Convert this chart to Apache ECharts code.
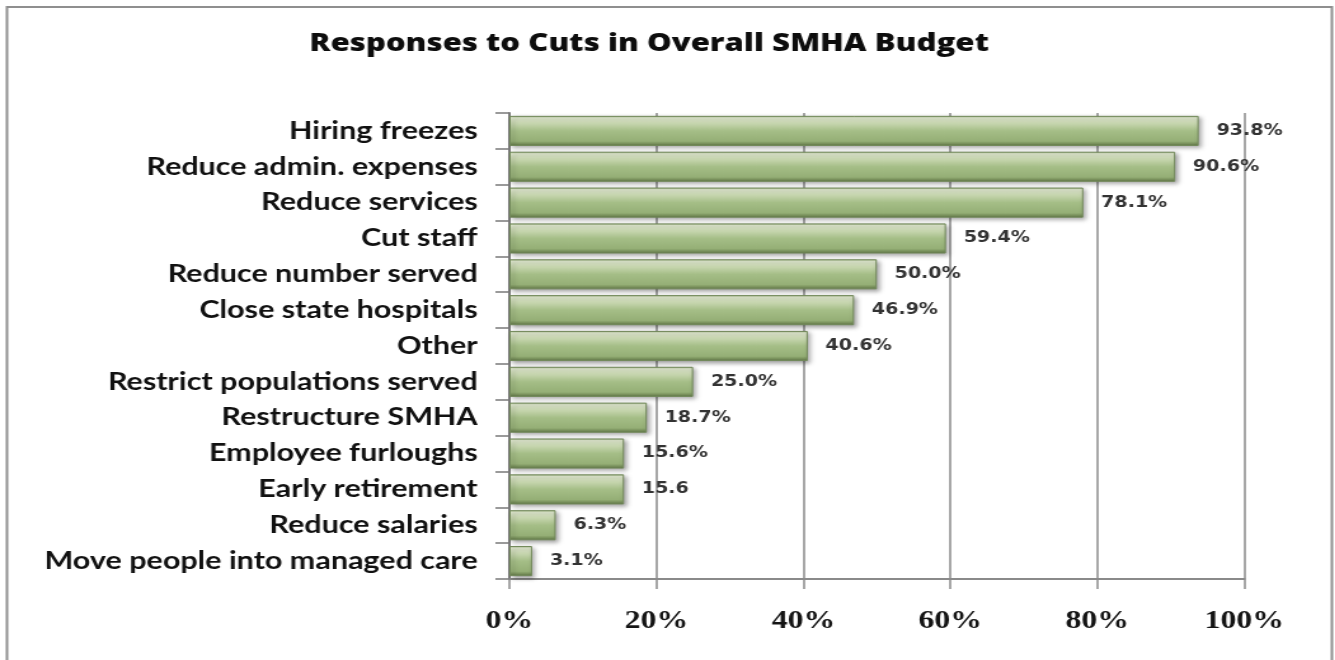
<!DOCTYPE html>
<html>
<head>
<meta charset="utf-8">
<script src="https://cdn.jsdelivr.net/npm/echarts@6/dist/echarts.min.js"></script>
<style>
  html, body { margin: 0; padding: 0; background: #fff; overflow: hidden; }
  /* the chart is laid out narrow and widened horizontally, giving the wide lettering */
  #chart { width: 1051px; height: 660px; transform: scaleX(1.2703); transform-origin: 0 0; }
</style>
</head>
<body>
<div id="chart"></div>
<script>
// Survey responses, listed top to bottom
const categories = [
  'Hiring freezes',
  'Reduce admin. expenses',
  'Reduce services',
  'Cut staff',
  'Reduce number served',
  'Close state hospitals',
  'Other',
  'Restrict populations served',
  'Restructure SMHA',
  'Employee furloughs',
  'Early retirement',
  'Reduce salaries',
  'Move people into managed care'
];
// Share of SMHAs reporting each response (%)
const values = [93.8, 90.6, 78.1, 59.4, 50.0, 46.9, 40.6, 25.0, 18.7, 15.6, 15.6, 6.3, 3.1];
// Rows whose value label is printed without a percent sign
const unitless = ['Early retirement'];
const xTicks = [0, 20, 40, 60, 80, 100];

const chart = echarts.init(document.getElementById('chart'), null, { renderer: 'canvas' });

const barFill = new echarts.graphic.LinearGradient(0, 0, 0, 1, [
  { offset: 0.00, color: '#a3b887' },
  { offset: 0.07, color: '#e0e9cf' },
  { offset: 0.22, color: '#cbd9b4' },
  { offset: 0.50, color: '#a5be87' },
  { offset: 0.84, color: '#95af76' },
  { offset: 0.93, color: '#78905b' },
  { offset: 1.00, color: '#5c7245' }
]);

chart.setOption({
  backgroundColor: '#ffffff',
  animation: false,
  title: {
    text: 'Responses to Cuts in Overall SMHA Budget',
    left: 506,
    textAlign: 'center',
    top: 27,
    textStyle: {
      fontFamily: 'Open Sans',
      fontWeight: 800,
      fontSize: 24.5,
      color: '#0d0d0d'
    }
  },
  graphic: [{
    type: 'rect',
    shape: { x: 5.5, y: 7, width: 1043, height: 700 },
    style: { fill: 'none', stroke: '#8f8f8f', lineWidth: 2 },
    silent: true,
    z: -1
  }],
  grid: { left: 401, right: 71.5, top: 113, bottom: 81, containLabel: false },
  xAxis: {
    type: 'value',
    min: xTicks[0],
    max: xTicks[xTicks.length - 1],
    interval: xTicks[1] - xTicks[0],
    axisLine: { show: true, lineStyle: { color: '#8a8a8a', width: 2 } },
    axisTick: { show: true, length: 10, lineStyle: { color: '#8a8a8a', width: 1.5 } },
    splitLine: { show: true, lineStyle: { color: '#8a8a8a', width: 1.5 } },
    axisLabel: {
      formatter: v => v + '%',
      margin: 30,
      fontFamily: 'Liberation Serif',
      fontWeight: 'bold',
      fontSize: 25,
      color: '#141414'
    }
  },
  yAxis: {
    type: 'category',
    inverse: true,
    data: categories,
    axisLine: { show: true, lineStyle: { color: '#7a7a7a', width: 2 } },
    axisTick: { show: true, length: 11, lineStyle: { color: '#7a7a7a', width: 1.5 } },
    splitLine: { show: false },
    axisLabel: {
      margin: 25,
      fontFamily: 'Lato',
      fontWeight: 'bold',
      fontSize: 24,
      color: '#111'
    }
  },
  series: [{
    type: 'bar',
    data: values,
    barCategoryGap: '16%',
    itemStyle: {
      color: barFill,
      borderColor: '#72895a',
      borderWidth: 1,
      shadowColor: 'rgba(0,0,0,0.35)',
      shadowBlur: 4,
      shadowOffsetX: 2,
      shadowOffsetY: 2
    },
    label: {
      show: true,
      position: 'right',
      distance: 14,
      fontFamily: 'DejaVu Sans',
      fontWeight: 'bold',
      fontSize: 15,
      color: '#333',
      formatter: p => p.value.toFixed(1) + (unitless.includes(p.name) ? '' : '%')
    }
  }]
});
</script>
</body>
</html>
